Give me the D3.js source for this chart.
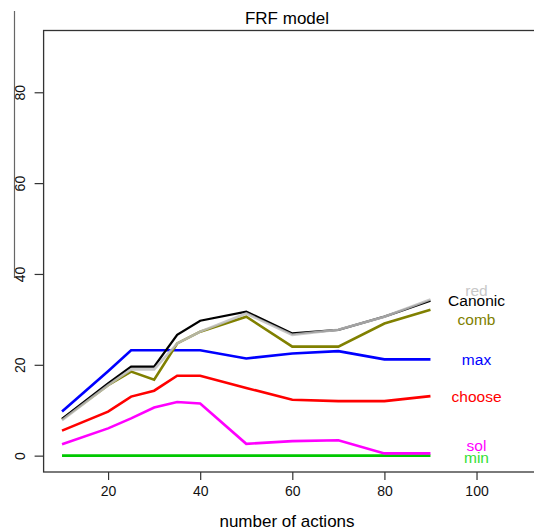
<!DOCTYPE html>
<html lang="en">
<head>
    <meta charset="UTF-8">
    <title>FRF model</title>
    <script type="text/javascript" src="https://cdn.jsdelivr.net/npm/d3@7/dist/d3.min.js"></script>
    <style>
        body { margin: 0; background: #fff; }
        text { font-family: "Liberation Sans", Arial, sans-serif; }
    </style>
</head>
<body>
    <script type="text/javascript">

        // data
        var actions = [10, 20, 25, 30, 35, 40, 50, 60, 70, 80, 90];
        var canonic = [8.1, 15.9, 19.6, 19.6, 26.6, 29.7, 31.7, 26.9, 27.7, 30.6, 34.1];
        var red     = [7.8, 15.5, 19.0, 19.0, 24.7, 27.3, 31.3, 26.6, 27.7, 30.6, 34.4];
        var comb    = [8.0, 15.5, 18.5, 16.7, 24.7, 27.3, 30.6, 24.0, 24.0, 29.1, 32.1];
        var maxV    = [9.7, 18.6, 23.2, 23.2, 23.2, 23.2, 21.4, 22.5, 23.0, 21.2, 21.2];
        var choose  = [5.5, 9.7, 13.0, 14.3, 17.6, 17.6, 14.9, 12.3, 12.0, 12.0, 13.1];
        var sol     = [2.5, 6.0, 8.2, 10.6, 11.8, 11.5, 2.6, 3.2, 3.4, 0.5, 0.5];
        var minV    = [0, 0, 0, 0, 0, 0, 0, 0, 0, 0, 0];

        var seriesNames = ["comb", "Canonic", "red", "max", "choose", "sol", "min"];
        var labelY = [29.9, 34.1, 36.3, 21.1, 12.9, 2.2, -0.4];   // where R put the text() labels
        var xTicks = [20, 40, 60, 80, 100];
        var yTicks = [0, 20, 40, 60, 80];

        var seriesValues = [comb, canonic, red, maxV, choose, sol, minV];
        var lineColors = ["#808000", "#000000", "#bebebe", "#0000ff", "#ff0000", "#ff00ff", "#00c800"];
        var textColors = ["#808000", "#000000", "#c8c8c8", "#0000ff", "#ff0000", "#ff00ff", "#33e033"];

        var w = 534, h = 532;

        var xScale = d3.scaleLinear().domain([6, 114]).range([43.6, 541]);
        var yScale = d3.scaleLinear().domain([-3.6, 93.6]).range([472, 30.5]);

        var svg = d3.select("body").append("svg")
            .attr("width", w)
            .attr("height", h);

        // stray line at far left of the original image
        svg.append("line")
            .attr("x1", 14.5).attr("x2", 14.5)
            .attr("y1", 11).attr("y2", 278)
            .attr("stroke", "#666").attr("stroke-width", 1.2);

        // title
        svg.append("text")
            .attr("x", 287).attr("y", 24)
            .attr("text-anchor", "middle")
            .attr("font-size", 17)
            .text("FRF model");

        var line = d3.line()
            .x(function(d) { return xScale(d[0]); })
            .y(function(d) { return yScale(d[1]); });

        // lines
        var drawOrder = [6, 5, 4, 3, 0, 1, 2];
        drawOrder.forEach(function(k) {
            var pts = actions.map(function(a, i) { return [a, seriesValues[k][i]]; });
            svg.append("path")
                .datum(pts)
                .attr("d", line)
                .attr("fill", "none")
                .attr("stroke", lineColors[k])
                .attr("stroke-width", k === 1 ? 2.3 : 2.6)
                .attr("stroke-opacity", k === 2 ? 0.85 : 1)
                .attr("stroke-linejoin", "miter");
        });

        // labels at x = 100
        seriesNames.forEach(function(name, k) {
            svg.append("text")
                .attr("x", xScale(100))
                .attr("y", yScale(labelY[k]))
                .attr("dy", "0.35em")
                .attr("text-anchor", "middle")
                .attr("font-size", 15.5)
                .attr("fill", textColors[k])
                .text(name);
        });

        // box
        svg.append("rect")
            .attr("x", xScale(6)).attr("y", yScale(93.6))
            .attr("width", 600).attr("height", yScale(-3.6) - yScale(93.6))
            .attr("fill", "none")
            .attr("stroke", "#333").attr("stroke-width", 1.3);

        // axes
        var xAxis = d3.axisBottom(xScale).tickValues(xTicks).tickSize(8).tickPadding(6);
        var gx = svg.append("g")
            .attr("transform", "translate(0," + yScale(-3.6) + ")")
            .call(xAxis);
        gx.select(".domain").remove();
        gx.selectAll("line").attr("stroke", "#333").attr("stroke-width", 1.2);
        gx.selectAll("text").attr("font-size", 14).attr("fill", "#111")
            .attr("font-family", "Liberation Sans, Arial, sans-serif");

        var yAxis = d3.axisLeft(yScale).tickValues(yTicks).tickSize(9);
        var gy = svg.append("g")
            .attr("transform", "translate(" + xScale(6) + ",0)")
            .call(yAxis);
        gy.select(".domain").remove();
        gy.selectAll("line").attr("stroke", "#333").attr("stroke-width", 1.2);
        gy.selectAll("text")
            .attr("font-size", 14).attr("fill", "#111")
            .attr("font-family", "Liberation Sans, Arial, sans-serif")
            .attr("text-anchor", "middle")
            .attr("x", 0).attr("dy", 0)
            .attr("transform", "translate(-24,0) rotate(-90)")
            .attr("y", 5);

        // x axis title
        svg.append("text")
            .attr("x", 287).attr("y", 527)
            .attr("text-anchor", "middle")
            .attr("font-size", 17)
            .text("number of actions");

    </script>
</body>
</html>
